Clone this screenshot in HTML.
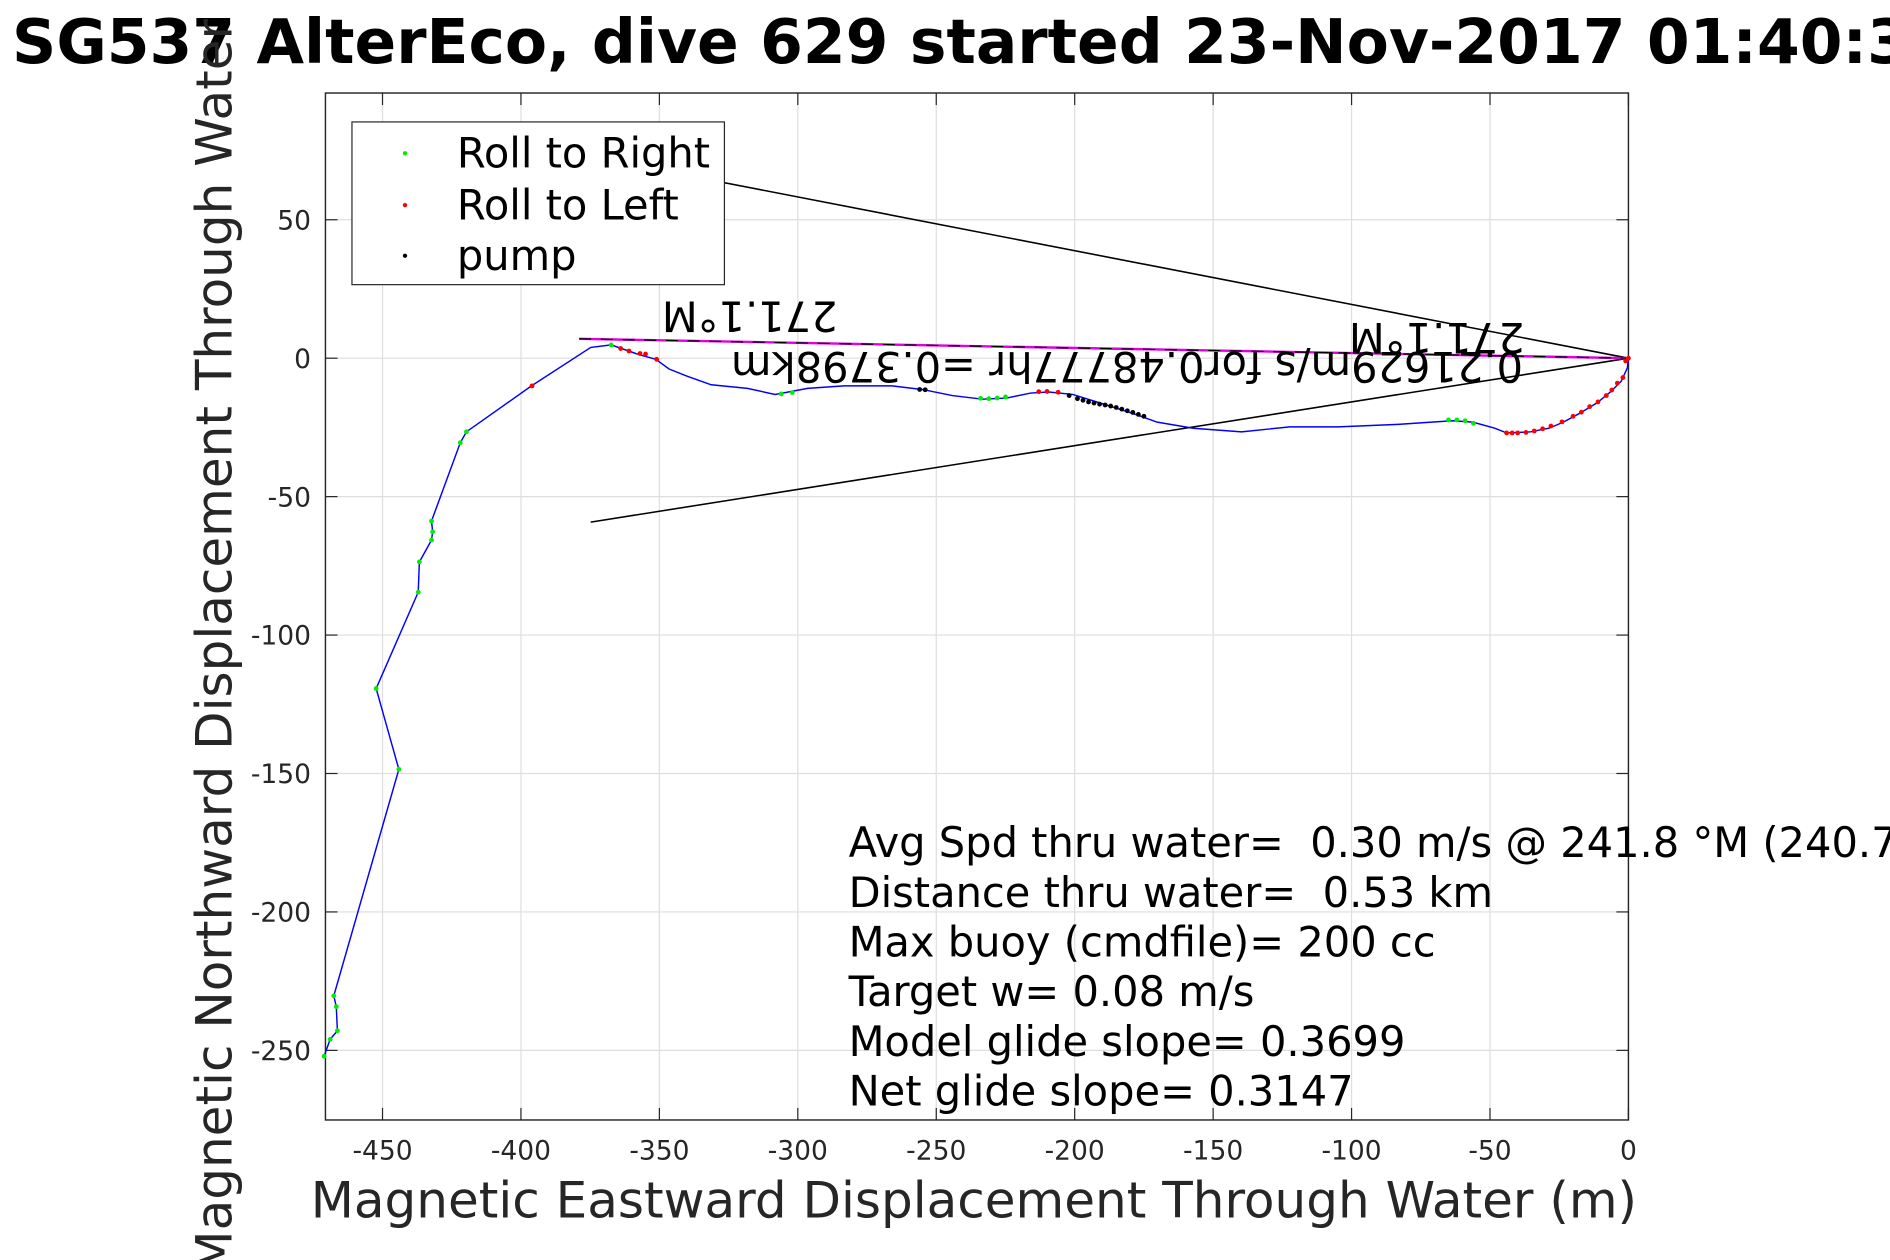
<!DOCTYPE html>
<html><head><meta charset="utf-8"><style>
html,body{margin:0;padding:0;background:#fff;width:1890px;height:1260px;overflow:hidden}
svg{display:block;font-family:"DejaVu Sans","Liberation Sans",sans-serif}
</style></head><body>
<svg id="chart" width="1890" height="1260" viewBox="0 0 1568 1045" xmlns="http://www.w3.org/2000/svg">
<rect x="0" y="0" width="1568" height="1045" fill="#fff"/>
<text x="10" y="52" font-size="51" font-weight="bold" fill="#000">SG537 AlterEco, dive 629 started 23-Nov-2017 01:40:35</text>
<g id="plot"></g>
</svg>
<script>
const xTicks=[-450,-400,-350,-300,-250,-200,-150,-100,-50,0];
const yTicks=[50,0,-50,-100,-150,-200,-250];
const trackE=[0,-0.4,-2.6,-6.5,-11.3,-17.8,-23.5,-28.7,-35.3,-44.0,-48.3,-56.2,-63.6,-83.2,-104.9,-122.3,-139.7,-157.2,-170.2,-178.9,-189.8,-200.7,-209.4,-215.9,-224.6,-233.3,-244.2,-255.1,-266.0,-283.4,-296.5,-308.2,-318.2,-331.3,-340.0,-346.5,-351.3,-357.4,-367.4,-374.8,-396.2,-419.7,-421.9,-432.3,-431.9,-432.3,-436.7,-437.1,-452.3,-444.1,-467.6,-466.7,-466.3,-468.9,-471.1];
const trackN=[0,-3.5,-8.3,-12.2,-16.1,-20.0,-23.1,-25.3,-26.6,-27.0,-25.3,-23.1,-22.6,-23.9,-24.8,-24.8,-26.6,-25.3,-23.1,-20.0,-16.5,-13.1,-12.2,-12.6,-14.4,-14.8,-13.5,-11.3,-10.0,-10.0,-10.9,-13.1,-10.9,-9.6,-6.5,-3.9,-0.4,1.3,4.8,3.9,-10.0,-26.6,-30.5,-58.8,-62.7,-65.7,-73.6,-84.5,-119.3,-148.5,-230.3,-234.2,-242.9,-246.0,-252.1];
const rightE=[-367.4,-306,-302,-234,-231,-228,-225,-65,-62,-59,-56,-419.7,-421.9,-432.3,-431.9,-432.3,-436.7,-437.1,-452.3,-444.1,-467.6,-466.7,-466.3,-468.9,-471.1];
const rightN=[4.8,-12.9,-12.4,-14.5,-14.6,-14.4,-14,-22.3,-22.3,-22.6,-23.5,-26.6,-30.5,-58.8,-62.7,-65.7,-73.6,-84.5,-119.3,-148.5,-230.3,-234.2,-242.9,-246.0,-252.1];
const leftE=[-364,-361,-357,-355,-351,-396,-213,-210,-206,-44,-42,-40,-37,-34,-31,-28,-24,-20,-17,-14,-11,-8,-6,-4,-2,-1,0];
const leftN=[3.5,2.6,1.7,1.5,-0.4,-10,-12.1,-12,-12.3,-27,-27,-27,-26.8,-26.3,-25.5,-24.5,-23,-21,-19.5,-17.5,-15.8,-13.5,-11.5,-9,-7,-1,0];
const pumpE=[-256,-254,-202,-199,-197,-195,-193,-191,-189,-187,-185,-183,-181,-179,-177,-175];
const pumpN=[-11.3,-11.4,-13.5,-14.6,-15.2,-15.8,-16.2,-16.6,-16.9,-17.3,-17.8,-18.4,-19,-19.6,-20.3,-21];
const headingE=[-379,0];const headingN=[7,0];
const fanE=[-374.8,-340];const fanN=[-59.2,66];

const L=270,R=1351,T=77,B=929,S=2.297,ZX=1351,ZY=297;
const sx=v=>ZX+v*S, sy=v=>ZY-v*S;
const NS="http://www.w3.org/2000/svg";
const g=document.getElementById('plot');
function mk(t,a,p){const e=document.createElementNS(NS,t);for(const k in a)e.setAttribute(k,a[k]);(p||g).appendChild(e);return e;}
const grid=mk('g',{});


xTicks.forEach(v=>{
  const l=mk('line',{x1:sx(v),x2:sx(v),y1:T,y2:B,stroke:'#dedede','stroke-width':1},grid);
  
  
});
yTicks.forEach(v=>{
  const l=mk('line',{x1:L,x2:R,y1:sy(v),y2:sy(v),stroke:'#dedede','stroke-width':1},grid);
  
  
});
const ax=mk('rect',{x:L,y:T,width:R-L,height:B-T,fill:'none',stroke:'#262626','stroke-width':1.2});


xTicks.forEach(v=>{
  mk('line',{x1:sx(v),x2:sx(v),y1:B,y2:B-10,stroke:'#262626'});
  mk('line',{x1:sx(v),x2:sx(v),y1:T,y2:T+10,stroke:'#262626'});
  const t=mk('text',{x:sx(v),y:962,'font-size':22,'text-anchor':'middle',fill:'#262626'});
  t.textContent=v;
  
  
});
yTicks.forEach(v=>{
  mk('line',{x1:L,x2:L+10,y1:sy(v),y2:sy(v),stroke:'#262626'});
  mk('line',{x1:R,x2:R-10,y1:sy(v),y2:sy(v),stroke:'#262626'});
  const t=mk('text',{x:258,y:sy(v)+8,'font-size':22,'text-anchor':'end',fill:'#262626'});
  t.textContent=v;
  
  
});
const xl=mk('text',{x:808,y:1010,'font-size':41.5,'text-anchor':'middle',fill:'#262626'});
xl.textContent='Magnetic Eastward Displacement Through Water (m)';


const yl=mk('text',{x:0,y:0,'font-size':41.5,'text-anchor':'middle',fill:'#262626',transform:'translate(192,493) rotate(-90)'});
yl.textContent='Magnetic Northward Displacement Through Water (m)';



const fan=mk('polyline',{points:sx(fanE[0])+','+sy(fanN[0])+' '+sx(0)+','+sy(0)+' '+sx(fanE[1])+','+sy(fanN[1]),fill:'none',stroke:'#000','stroke-width':1.3});


const hp=headingE.map((e,i)=>sx(e)+','+sy(headingN[i])).join(' ');
const hm=mk('polyline',{points:hp,fill:'none',stroke:'#e000e0','stroke-width':2});


const hd=mk('polyline',{points:hp,fill:'none',stroke:'#000','stroke-width':1,'stroke-dasharray':'10 8'});



const tr=mk('polyline',{points:trackE.map((e,i)=>sx(e)+','+sy(trackN[i])).join(' '),fill:'none',stroke:'#0000ff','stroke-width':1.2});


function dots(E,N,col,name){E.forEach((e,i)=>{const c=mk('circle',{cx:sx(e),cy:sy(N[i]),r:2,fill:col});

});}
dots(rightE,rightN,'#00ee00','roll-right-point');
dots(leftE,leftN,'#ff0000','roll-left-point');
dots(pumpE,pumpN,'#000','pump-point');

function flip(x,y,s,txt,name){const t=mk('text',{x:0,y:0,'font-size':s,'text-anchor':'middle',fill:'#000',transform:`translate(${x},${y}) rotate(180)`});t.textContent=txt;

}
flip(622,250,34.5,'271.1°M','heading-label-left');
flip(1192,268,34.5,'271.1°M','heading-label-right');
flip(935,292,34.5,'0.21629m/s for0.48777hr =0.3798km','current-label');

const lg=mk('g',{});


mk('rect',{x:292,y:101,width:309,height:135,fill:'#fff',stroke:'#262626','stroke-width':1},lg);
[['Roll to Right','#00ee00',127],['Roll to Left','#ff0000',170],['pump','#000',212]].forEach(d=>{
  mk('circle',{cx:336,cy:d[2],r:1.8,fill:d[1]},lg);
  const t=mk('text',{x:379,y:d[2]+12,'font-size':34.5,fill:'#000'},lg);
  t.textContent=d[0];
  
  
});

['Avg Spd thru water=  0.30 m/s @ 241.8 °M (240.7 °T)','Distance thru water=  0.53 km','Max buoy (cmdfile)= 200 cc','Target w= 0.08 m/s','Model glide slope= 0.3699','Net glide slope= 0.3147'].forEach((s,i)=>{
  const t=mk('text',{x:704,y:711+i*41.2,'font-size':34.5,fill:'#000'});
  t.setAttribute('style','white-space:pre');
  t.textContent=s;
  
  
});
</script>
</body></html>
